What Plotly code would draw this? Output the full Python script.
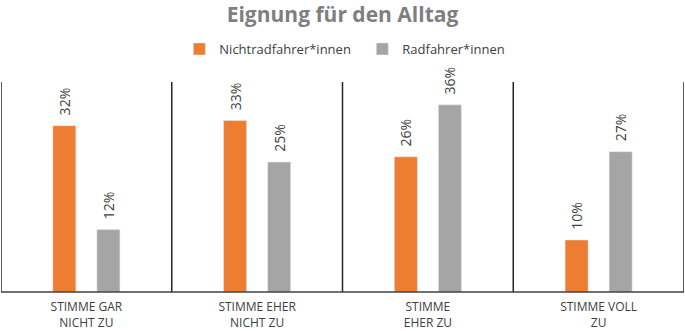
import plotly.graph_objects as go

categories = ["STIMME GAR<br>NICHT ZU", "STIMME EHER<br>NICHT ZU", "STIMME<br>EHER ZU", "STIMME VOLL<br>ZU"]
series_names = ["Nichtradfahrer*innen", "Radfahrer*innen"]
nicht_rad = [32, 33, 26, 10]
rad = [12, 25, 36, 27]
colors = ["#ED7D31", "#A5A5A5"]

fig = go.Figure()
for name, vals, col in zip(series_names, [nicht_rad, rad], colors):
    fig.add_trace(go.Bar(
        x=categories, y=vals, name=name, marker_color=col,
        text=[f"\u00a0\u00a0{v}%" for v in vals], textposition="outside", textangle=-90,
        constraintext="none",
        textfont=dict(family="Open Sans", size=14, color="#404040"),
        cliponaxis=False,
    ))

shapes = []
for xv in [-0.5, 0.5, 1.5, 2.5, 3.5]:
    shapes.append(dict(type="line", xref="x", yref="paper", x0=xv, x1=xv, y0=0, y1=1,
                       line=dict(color="#262626", width=1.5)))
shapes.append(dict(type="line", xref="paper", yref="paper", x0=0, x1=1, y0=0, y1=0,
                   line=dict(color="#404040", width=1.5)))

fig.update_layout(
    width=685, height=331,
    margin=dict(l=1, r=1, t=82, b=39, autoexpand=False),
    paper_bgcolor="white", plot_bgcolor="white",
    barmode="group", bargap=0.484, bargroupgap=0.477,
    title=dict(text="<b>Eignung für den Alltag</b>", x=0.5, xanchor="center",
               yref="container", y=1 - 15 / 331, yanchor="middle",
               font=dict(family="Open Sans", size=21, color="#7F7F7F")),
    legend=dict(orientation="h", x=0.529, xanchor="center", yref="container", y=1 - 49 / 331, yanchor="middle",
                font=dict(family="Open Sans", size=13, color="#404040"), itemwidth=30,
                entrywidth=138, entrywidthmode="pixels",
                traceorder="normal"),
    xaxis=dict(range=[-0.5, 3.5], showline=False, showgrid=False, ticks="", automargin=False,
               ticklabelstandoff=6,
               tickfont=dict(family="Open Sans", size=12, color="#404040")),
    yaxis=dict(range=[0, 40.4], visible=False, automargin=False),
    shapes=shapes,
    showlegend=True,
)
fig.write_html("out.html", config={"displayModeBar": False},
               post_script="document.body.style.margin='0';")
